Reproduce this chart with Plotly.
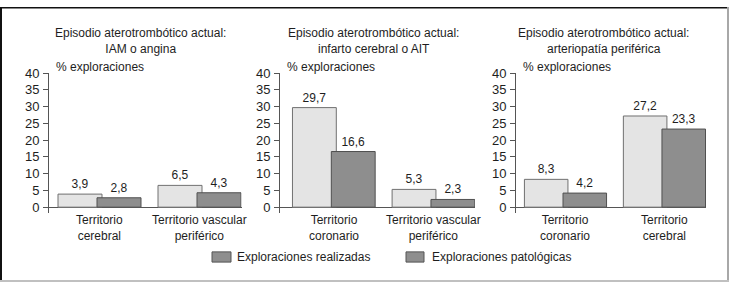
import plotly.graph_objects as go

W, H = 729, 283

# ---- data ----
panel_titles = [
    "Episodio aterotrombótico actual:<br>IAM o angina",
    "Episodio aterotrombótico actual:<br>infarto cerebral o AIT",
    "Episodio aterotrombótico actual:<br>arteriopatía periférica",
]
panel_categories = [
    ["Territorio<br>cerebral", "Territorio vascular<br>periférico"],
    ["Territorio<br>coronario", "Territorio vascular<br>periférico"],
    ["Territorio<br>coronario", "Territorio<br>cerebral"],
]
realizadas = [
    [3.9, 6.5],
    [29.7, 5.3],
    [8.3, 27.2],
]
patologicas = [
    [2.8, 4.3],
    [16.6, 2.3],
    [4.2, 23.3],
]
series_names = ["Exploraciones realizadas", "Exploraciones patológicas"]
y_title = "% exploraciones"
y_ticks = [0, 5, 10, 15, 20, 25, 30, 35, 40]

# ---- styling ----
FONT = "Liberation Sans, Arial, Helvetica, sans-serif"
TXT = "#1e1e1e"
LIGHT_FILL, LIGHT_LINE = "#e4e4e4", "#707070"
DARK_FILL, DARK_LINE = "#8e8e8e", "#505050"
AXIS = "#555555"
LEGEND_SWATCH = "#8e8e8e"

def px_x(p):
    return p / W

def px_y(p):
    return (H - p) / H

# pixel layout of each panel: (axis left px, axis right px, x range)
panel_px = [
    (49, 241.5, [-0.505, 1.42]),
    (280, 475, [-0.54, 1.417]),
    (516, 706, [-0.5, 1.42]),
]
title_cx = [140, 373, 603]
y_bottom_px, y_top_px = 212.2, 68
y_range = [-1.8, 40]

fig = go.Figure()
annotations = []
shapes = []

for i in range(3):
    ax = "" if i == 0 else str(i + 1)
    xs = list(range(len(panel_categories[i])))
    fig.add_trace(go.Bar(
        x=xs, y=realizadas[i], xaxis="x" + ax, yaxis="y" + ax,
        width=0.44, offset=-0.415,
        marker=dict(color=LIGHT_FILL, line=dict(color=LIGHT_LINE, width=1)),
        texttemplate="%{y:.1f}", textposition="outside", cliponaxis=False,
        textfont=dict(size=12, color=TXT, family=FONT),
        name=series_names[0], showlegend=False, hoverinfo="skip",
    ))
    fig.add_trace(go.Bar(
        x=xs, y=patologicas[i], xaxis="x" + ax, yaxis="y" + ax,
        width=0.44, offset=-0.025,
        marker=dict(color=DARK_FILL, line=dict(color=DARK_LINE, width=1)),
        texttemplate="%{y:.1f}", textposition="outside", cliponaxis=False,
        textfont=dict(size=12, color=TXT, family=FONT),
        name=series_names[1], showlegend=False, hoverinfo="skip",
    ))
    left, right, xr = panel_px[i]
    fig.update_layout(**{
        "xaxis" + ax: dict(
            domain=[px_x(left), px_x(right)], range=xr, anchor="y" + ax,
            showticklabels=False, ticks="", showgrid=False, zeroline=False,
            showline=False, fixedrange=True,
        ),
        "yaxis" + ax: dict(
            domain=[px_y(y_bottom_px), px_y(y_top_px)], range=y_range,
            anchor="x" + ax, tickvals=y_ticks, ticks="outside", ticklen=5,
            tickcolor=AXIS, tickwidth=1, showline=True, linecolor=AXIS,
            linewidth=1, showgrid=False, zeroline=True, zerolinecolor=AXIS,
            zerolinewidth=1, tickfont=dict(size=13, color=TXT, family=FONT),
            ticklabelstandoff=1, fixedrange=True,
        ),
    })
    # panel title (two lines)
    annotations.append(dict(
        text=panel_titles[i], xref="paper", yref="paper", x=px_x(title_cx[i]),
        y=px_y(34.5), xanchor="center", yanchor="middle", align="center",
        showarrow=False, font=dict(size=12, color=TXT, family=FONT),
    ))
    # y axis title
    annotations.append(dict(
        text=y_title, xref="paper", yref="paper", x=px_x(left + 5),
        y=px_y(62), xanchor="left", yanchor="middle", showarrow=False,
        font=dict(size=12, color=TXT, family=FONT),
    ))
    # category labels (two lines each)
    for k, cat in enumerate(panel_categories[i]):
        annotations.append(dict(
            text=cat, xref="x" + ax, yref="paper", x=xs[k],
            y=px_y(227), xanchor="center", yanchor="middle", align="center",
            showarrow=False, font=dict(size=12, color=TXT, family=FONT),
        ))

# legend (drawn manually to match the reference swatches)
legend_px = [(212, 231, 235), (406, 424, 430)]
for (sx0, sx1, tx), name in zip(legend_px, series_names):
    shapes.append(dict(
        type="rect", xref="paper", yref="paper",
        x0=px_x(sx0), x1=px_x(sx1), y0=px_y(262.5), y1=px_y(252),
        fillcolor=LEGEND_SWATCH, line=dict(color="#555555", width=1),
    ))
    annotations.append(dict(
        text=name, xref="paper", yref="paper", x=px_x(tx), y=px_y(257.5),
        xanchor="left", yanchor="middle", showarrow=False,
        font=dict(size=12, color=TXT, family=FONT),
    ))

# outer frame
shapes += [
    dict(type="rect", xref="paper", yref="paper", x0=0, x1=1,
         y0=px_y(1.5), y1=1, fillcolor="#111111", line=dict(width=0)),
    dict(type="rect", xref="paper", yref="paper", x0=0, x1=px_x(2),
         y0=0, y1=1, fillcolor="#111111", line=dict(width=0)),
    dict(type="rect", xref="paper", yref="paper", x0=px_x(727), x1=1,
         y0=0, y1=1, fillcolor="#a8a8a8", line=dict(width=0)),
    dict(type="rect", xref="paper", yref="paper", x0=0, x1=1,
         y0=0, y1=px_y(281), fillcolor="#c0c0c0", line=dict(width=0)),
]

fig.update_layout(
    width=W, height=H, margin=dict(l=0, r=0, t=0, b=0),
    paper_bgcolor="white", plot_bgcolor="white",
    barmode="overlay", separators=",.", showlegend=False,
    font=dict(family=FONT, size=12, color=TXT),
    annotations=annotations, shapes=shapes,
)

POST = "document.body.style.margin='0';document.body.style.overflow='hidden';"
fig.write_html("out.html", config={"displayModeBar": False}, post_script=POST)
